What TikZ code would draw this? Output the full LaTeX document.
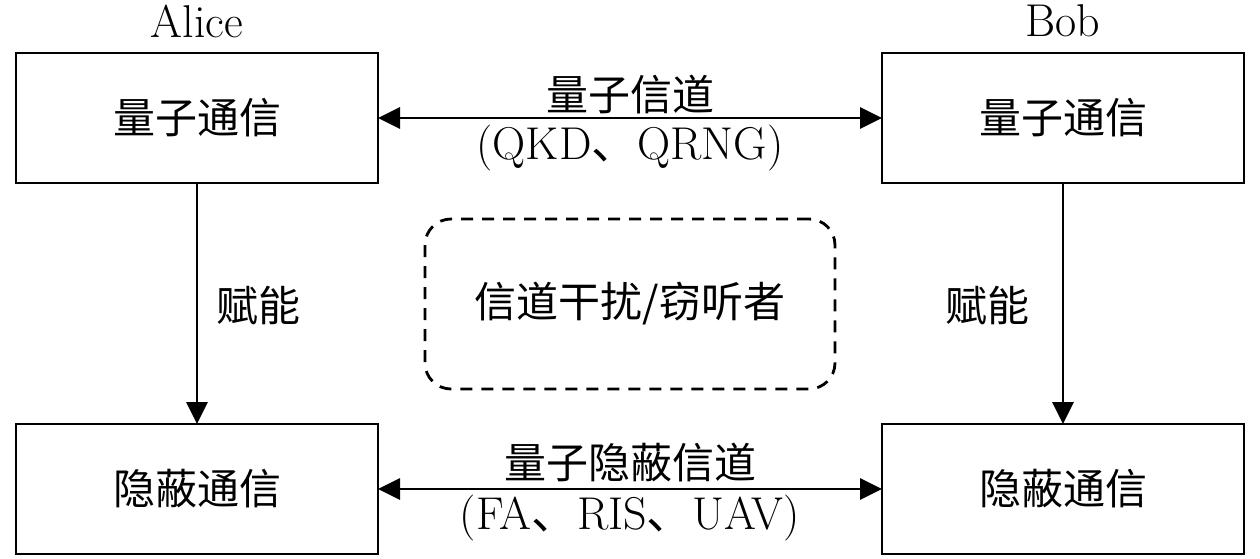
\documentclass[tikz,border=0pt]{standalone}
\usepackage{fontspec}
\newfontfamily\cjk{Noto Sans CJK SC}
\usetikzlibrary{arrows.meta}
\newcommand\latfont{\fontsize{23}{27}\selectfont}
\newcommand\cjkfont{\cjk\fontsize{21}{25}\selectfont}
\tikzset{
  blk/.style={draw, line width=1.4pt, minimum width=181pt, minimum height=65pt, inner sep=0pt, outer sep=0pt, font=\cjkfont},
  arr/.style={line width=1.4pt, -{Triangle[length=11pt,width=10.5pt]}},
  darr/.style={line width=1.4pt, {Triangle[length=11pt,width=10.5pt]}-{Triangle[length=11pt,width=10.5pt]}},
  lbl/.style={inner sep=0pt, font=\latfont},
  clbl/.style={inner sep=0pt, font=\cjkfont},
  dbox/.style={draw, line width=1.4pt, dash pattern=on 6pt off 4.5pt, rounded corners=13pt, minimum width=205pt, minimum height=85pt, font=\cjkfont},
}
\begin{document}
\begin{tikzpicture}[x=0.5pt,y=-0.5pt]
\useasboundingbox (0,0) rectangle (1260,558);
\node[blk] (aq) at (197,118) {量子通信};
\node[blk] (bq) at (1063,118) {量子通信};
\node[blk] (ac) at (197,489) {隐蔽通信};
\node[blk] (bc) at (1063,489) {隐蔽通信};
\node[lbl] (alice) at (197,21) {Alice};
\node[lbl] (bob) at (1063,21) {Bob};
\draw[darr] (aq.east) -- (bq.west);
\draw[darr] (ac.east) -- (bc.west);
\draw[arr] (aq.south) -- (ac.north);
\draw[arr] (bq.south) -- (bc.north);
\node[clbl] (qc) at (630,95) {量子信道};
\node[lbl] (qcs) at (630,148) {(QKD{\cjk 、}QRNG)};
\node[clbl] (qcc) at (630,463) {量子隐蔽信道};
\node[lbl] (qccs) at (630,518) {(FA{\cjk 、}RIS{\cjk 、}UAV)};
\node[clbl] (fl) at (258,305) {赋能};
\node[clbl] (fr) at (987,305) {赋能};
\node[dbox] (eve) at (630,304) {信道干扰/窃听者};
\end{tikzpicture}
\end{document}
